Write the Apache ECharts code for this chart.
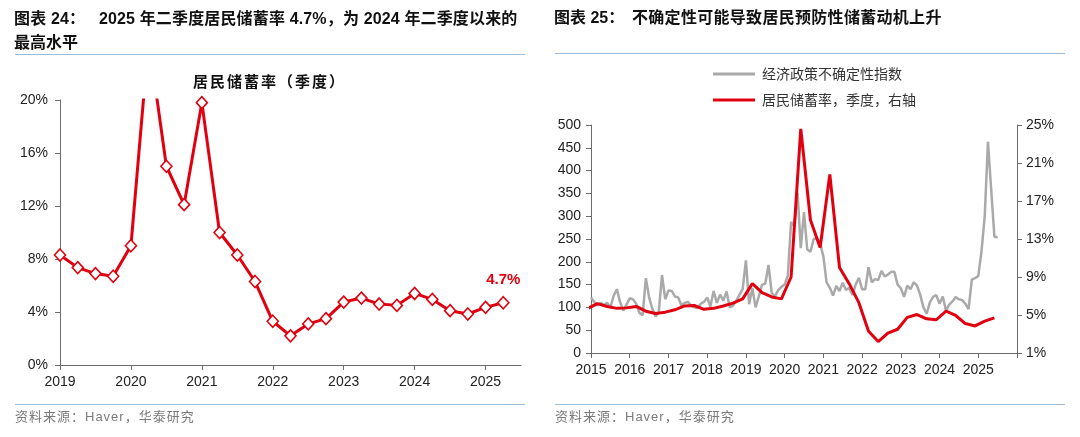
<!DOCTYPE html>
<html>
<head>
<meta charset="utf-8">
<script src="https://cdn.jsdelivr.net/npm/echarts@6/dist/echarts.min.js"></script>
<style>
  html, body { margin:0; padding:0; background:#fff; }
  body { width:1080px; height:437px; position:relative; overflow:hidden;
         font-family:"Liberation Sans","Noto Sans CJK SC",sans-serif; }
  #chart { position:absolute; left:0; top:0; width:1080px; height:437px; }
  .t { position:absolute; white-space:nowrap; font-weight:bold; font-size:16px; color:#111; line-height:20px; }
  .rule { position:absolute; height:0; border-top:1.5px solid #9bbbd9; }
  .src { position:absolute; white-space:nowrap; font-size:13px; color:#7a7a7a; line-height:16px; letter-spacing:1px; }
  .sub { position:absolute; white-space:nowrap; font-weight:bold; font-size:15px; color:#111; letter-spacing:2px; line-height:20px; }
</style>
</head>
<body>
<div id="chart"></div>
<div class="t" style="left:14px;top:9px;letter-spacing:0.15px;">图表 24：&nbsp;&nbsp;&nbsp;2025 年二季度居民储蓄率 4.7%，为 2024 年二季度以来的</div>
<div class="t" style="left:14px;top:33px;">最高水平</div>
<div class="t" style="left:554px;top:8px;">图表 25：</div>
<div class="t" style="left:632px;top:8px;letter-spacing:0.3px;">不确定性可能导致居民预防性储蓄动机上升</div>
<div class="rule" style="left:15px;top:54px;width:510px;"></div>
<div class="rule" style="left:555px;top:53px;width:510px;"></div>
<div class="sub" style="left:193px;top:72px;">居民储蓄率（季度）</div>
<div class="rule" style="left:15px;top:404px;width:510px;"></div>
<div class="rule" style="left:555px;top:404px;width:510px;"></div>
<div class="src" style="left:15px;top:409px;">资料来源：Haver，华泰研究</div>
<div class="src" style="left:555px;top:409px;">资料来源：Haver，华泰研究</div>
<script>
// ---- data ----
const quarters = [
  '2014Q4',
  '2015Q1','2015Q2','2015Q3','2015Q4',
  '2016Q1','2016Q2','2016Q3','2016Q4',
  '2017Q1','2017Q2','2017Q3','2017Q4',
  '2018Q1','2018Q2','2018Q3','2018Q4',
  '2019Q1','2019Q2','2019Q3','2019Q4',
  '2020Q1','2020Q2','2020Q3','2020Q4',
  '2021Q1','2021Q2','2021Q3','2021Q4',
  '2022Q1','2022Q2','2022Q3','2022Q4',
  '2023Q1','2023Q2','2023Q3','2023Q4',
  '2024Q1','2024Q2','2024Q3','2024Q4',
  '2025Q1','2025Q2'
];
// household saving rate, %
const savingRate = [
  5.7,
  6.2, 5.9, 5.7, 5.75,
  5.9, 5.4, 5.15, 5.3,
  5.55, 5.95, 6.0, 5.6,
  5.7, 5.95, 6.25, 6.7,
  8.3, 7.35, 6.9, 6.7,
  9.0, 24.6, 15.0, 12.1,
  19.8, 10.0, 8.3, 6.3,
  3.3, 2.2, 3.1, 3.5,
  4.75, 5.05, 4.6, 4.5,
  5.4, 4.95, 4.1, 3.85,
  4.35, 4.7
];
// economic policy uncertainty index, monthly from 2015-01
const epuStartYear = 2015;
const epuIndex = [
  122,112,104,110,105,110,100,125,140,112, 93,106,
  120,118,108, 88, 83,164,122, 97, 80, 90,171,118,
  137,136,124,122,104,110,112,104,100, 98,108,112,
  122,102,136,110,128,115,135,100,104,114,128,140,
  203,107,142,100,124,150,152,193,132,124,138,145,
  150,170,287,278,352,230,309,227,222,250,252,240,
  212,155,143,126,147,136,154,138,143,127,150,165,
  140,140,188,155,162,160,180,168,172,178,178,150,
  142,123,148,140,155,148,128,100, 86,111,123,127,
  108,124, 93,106,113,123,118,116,108, 96,161,164,
  169,223,300,463,359,255,254
];
const rightYTicks = [1, 5, 9, 13, 17, 21, 25];
const seriesNames = ['经济政策不确定性指数', '居民储蓄率，季度，右轴'];

// ---- derived ----
const RED = '#e0000f', GRAY = '#a9a9a9', AX = '#6b6b6b', LBL = '#222';
const leftStart = quarters.indexOf('2019Q1');
const leftCats = quarters.slice(leftStart).concat(['2025Q3']);
const leftVals = savingRate.slice(leftStart);
const leftData = leftVals.map((v, i) => i === leftVals.length - 1
  ? { value: v, label: { show: true, position: 'top', distance: 9, formatter: p => p.value + '%',
      color: RED, fontWeight: 'bold', fontSize: 15, fontFamily: 'Liberation Sans' } }
  : v);
const qPos = q => +q.slice(0, 4) + (3 * (+q.slice(5)) - 1) / 12;
const redData = quarters.map((q, i) => [qPos(q), savingRate[i]]);
const grayData = epuIndex.map((v, i) => [epuStartYear + i / 12, v]);
const everyYear = (idx) => idx % 4 === 0;

const font = 'Liberation Sans';
const axisCommon = {
  axisLine: { show: true, lineStyle: { color: AX, width: 1 } },
  axisTick: { show: true, length: 5, lineStyle: { color: AX } },
  splitLine: { show: false },
};

const chart = echarts.init(document.getElementById('chart'), null, { renderer: 'canvas' });
chart.setOption({
  animation: false,
  textStyle: { fontFamily: font },
  grid: [
    { left: 60, top: 100, width: 461, height: 265 },
    { left: 591, top: 125, width: 426, height: 228 }
  ],
  legend: {
    data: seriesNames,
    orient: 'vertical', left: 708, top: 62,
    icon: 'rect', itemWidth: 42, itemHeight: 3, itemGap: 12,
    textStyle: { fontSize: 14, color: '#333', fontFamily: 'Noto Sans CJK SC', lineHeight: 14, padding: [0, 0, 0, 2] }
  },
  xAxis: [
    Object.assign({}, axisCommon, {
      type: 'category', gridIndex: 0, data: leftCats, boundaryGap: false,
      axisTick: { show: true, length: 5, interval: everyYear, lineStyle: { color: AX } },
      axisLabel: { interval: everyYear, formatter: v => v.slice(0, 4), fontSize: 14, color: LBL, margin: 10 }
    }),
    Object.assign({}, axisCommon, {
      type: 'value', gridIndex: 1, min: 2015, max: 2026, interval: 1,
      axisLabel: { formatter: v => v === 2026 ? '' : String(v), fontSize: 14, color: LBL, margin: 10 }
    })
  ],
  yAxis: [
    Object.assign({}, axisCommon, {
      type: 'value', gridIndex: 0, min: 0, max: 20, interval: 4,
      axisLabel: { formatter: '{value}%', fontSize: 14, color: LBL, margin: 12 }
    }),
    Object.assign({}, axisCommon, {
      type: 'value', gridIndex: 1, min: 0, max: 500, interval: 50,
      axisLabel: { fontSize: 14, color: LBL, margin: 10 }
    }),
    Object.assign({}, axisCommon, {
      type: 'value', gridIndex: 1, position: 'right', min: 1, max: 25,
      axisTick: { show: true, length: 5, customValues: rightYTicks, lineStyle: { color: AX } },
      axisLabel: { customValues: rightYTicks, formatter: '{value}%', fontSize: 14, color: LBL, margin: 9 }
    })
  ],
  series: [
    {
      name: '居民储蓄率（季度）', type: 'line', xAxisIndex: 0, yAxisIndex: 0,
      data: leftData, clip: true,
      symbol: 'diamond', symbolSize: [11, 12], showAllSymbol: true,
      itemStyle: { color: '#fff', borderColor: RED, borderWidth: 1.6 },
      lineStyle: { color: RED, width: 3 }, z: 3
    },
    {
      name: seriesNames[0], type: 'line', xAxisIndex: 1, yAxisIndex: 1,
      data: grayData, symbol: 'none', color: GRAY,
      lineStyle: { color: GRAY, width: 2.5 }, z: 2
    },
    {
      name: seriesNames[1], type: 'line', xAxisIndex: 1, yAxisIndex: 2,
      data: redData, symbol: 'none', color: RED, clip: true,
      lineStyle: { color: RED, width: 3 }, z: 3
    }
  ]
});
</script>
</body>
</html>
